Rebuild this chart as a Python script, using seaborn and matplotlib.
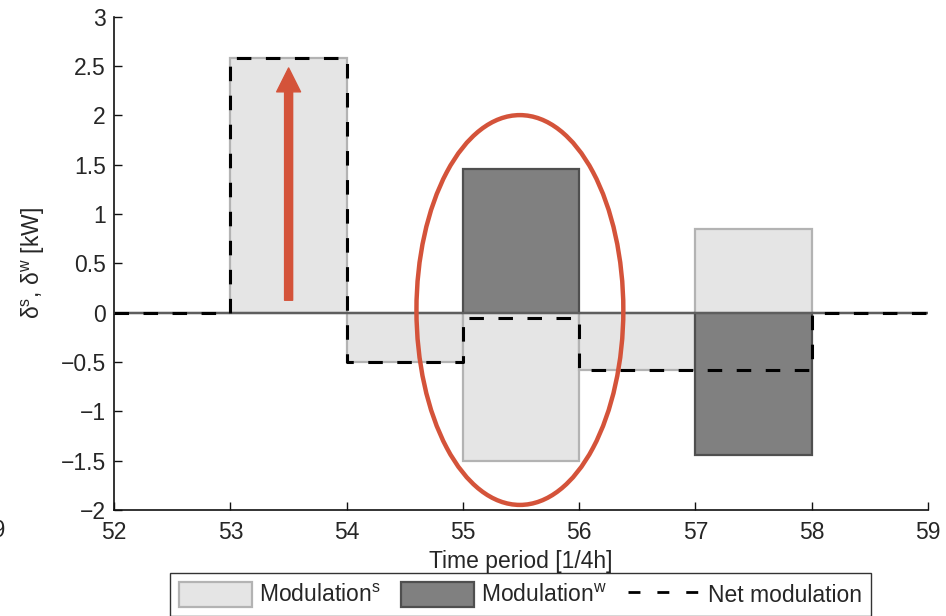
import numpy as np
import pandas as pd
import matplotlib.pyplot as plt
from matplotlib.patches import Ellipse, Patch
from matplotlib.lines import Line2D
import seaborn as sns

sns.set_style("ticks")
plt.rcParams["font.family"] = ["Liberation Sans", "DejaVu Sans"]
plt.rcParams["mathtext.fontset"] = "custom"
plt.rcParams["mathtext.rm"] = "Liberation Sans"
plt.rcParams["mathtext.it"] = "Liberation Sans:italic"
plt.rcParams["xtick.direction"] = "in"
plt.rcParams["ytick.direction"] = "in"

# Datos por periodo (cuartos de hora)
periods = [52, 53, 54, 55, 56, 57, 58]
mod_s = [0, 2.58, -0.50, -1.50, -0.58, 0.85, 0]
mod_w = [0, 0, 0, 1.46, 0, -1.44, 0]
net_mod = [0, 2.58, -0.50, -0.05, -0.58, -0.58, 0]

y_ticks = [-2, -1.5, -1, -0.5, 0, 0.5, 1, 1.5, 2, 2.5, 3]
y_tick_labels = ["\u22122", "\u22121.5", "\u22121", "\u22120.5", "0", "0.5", "1", "1.5", "2", "2.5", "3"]
x_ticks = [52, 53, 54, 55, 56, 57, 58, 59]

# Linea escalonada: se repite el ultimo valor para cerrar el periodo 58-59
df_net = pd.DataFrame({"t": periods + [periods[-1] + 1], "net": net_mod + [net_mod[-1]]})

red = "#d4533a"
fs = 16.5
dash = (0, (4.75, 4.75))

fig = plt.figure(figsize=(9.46, 6.16), dpi=100)
ax = fig.add_axes([0.1208, 0.172, 0.860, 0.801])

ax.bar(periods, mod_s, width=1, align="edge", color="#e5e5e5",
       edgecolor="#b3b3b3", linewidth=1.6, zorder=2)
ax.bar(periods, mod_w, width=1, align="edge", color="#808080",
       edgecolor="#4f4f4f", linewidth=1.6, zorder=2)
ax.axhline(0, color="#5e5e5e", linewidth=1.6, zorder=3)

sns.lineplot(data=df_net, x="t", y="net", drawstyle="steps-post", color="black",
             linewidth=2.2, linestyle=dash, estimator=None, ax=ax, zorder=4)

# Flecha y elipse roja
ax.annotate("", xy=(53.5, 2.48), xytext=(53.5, 0.126),
            arrowprops=dict(arrowstyle="simple,head_width=0.86,head_length=0.86,tail_width=0.29",
                            color=red, mutation_scale=20, shrinkA=0, shrinkB=0),
            zorder=5)
ax.add_patch(Ellipse((55.49, 0.027), 1.78, 3.95, fill=False, edgecolor=red,
                     linewidth=3.2, zorder=5, clip_on=False))

ax.set_xlim(52, 59)
ax.set_ylim(-2, 3)
ax.set_xticks(x_ticks)
ax.set_xticklabels([str(v) for v in x_ticks])
ax.set_yticks(y_ticks)
ax.set_yticklabels(y_tick_labels)
ax.tick_params(labelsize=fs, length=6, width=1, color="#111111")
ax.tick_params(axis="x", pad=8)
ax.tick_params(axis="y", pad=6)
ax.set_xlabel("Time period [1/4h]", fontsize=fs, labelpad=4)
ax.set_ylabel(r"δ$^{\mathrm{s}}$, δ$^{\mathrm{w}}$ [kW]", fontsize=fs, labelpad=10)
sns.despine(ax=ax)
for sp in ["left", "bottom"]:
    ax.spines[sp].set_color("#111111")
    ax.spines[sp].set_linewidth(1.2)

# Etiqueta cortada del grafico vecino
fig.text(0.006, 0.139, "49", ha="right", va="center", fontsize=fs)

handles = [
    Patch(facecolor="#e5e5e5", edgecolor="#b3b3b3", linewidth=1.6),
    Patch(facecolor="#808080", edgecolor="#4f4f4f", linewidth=1.6),
    Line2D([0], [0], color="black", linewidth=2, linestyle=(0, (4.3, 6.1))),
]
labels = [r"Modulation$^{\mathrm{s}}$", r"Modulation$^{\mathrm{w}}$", "Net modulation"]
leg = fig.legend(handles, labels, loc="upper center", bbox_to_anchor=(0.550, 0.0698),
                 ncol=3, fontsize=fs, frameon=True, fancybox=False, borderaxespad=0,
                 handlelength=3.2, handleheight=1.27, handletextpad=0.3,
                 columnspacing=0.9, borderpad=0.4)
leg.get_frame().set_edgecolor("black")
leg.get_frame().set_linewidth(1.0)

plt.savefig("out.png", dpi=100)
